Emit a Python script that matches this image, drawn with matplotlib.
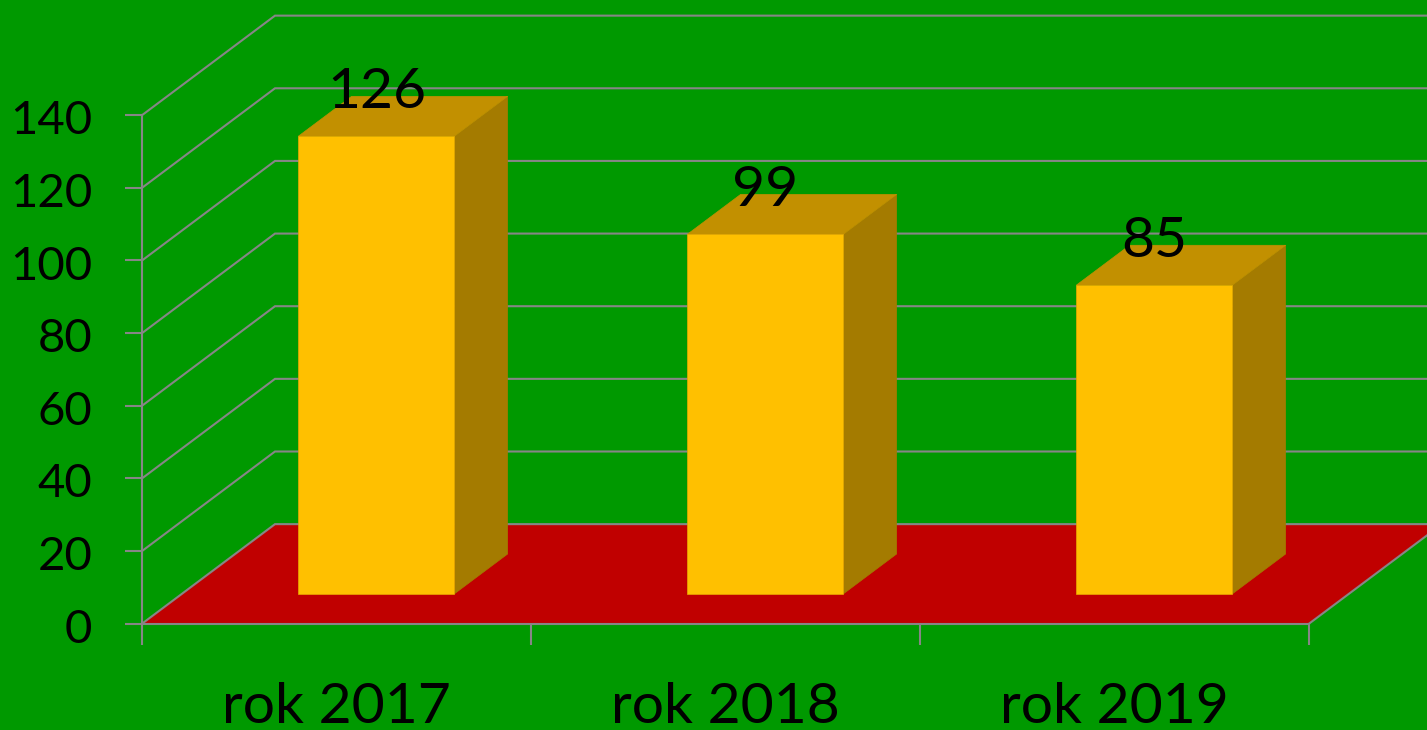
import matplotlib
matplotlib.use("Agg")
import matplotlib.pyplot as plt
from matplotlib.transforms import offset_copy

categories = ["rok 2017", "rok 2018", "rok 2019"]
values = [126, 99, 85]
y_ticks = [0, 20, 40, 60, 80, 100, 120, 140]

GREEN = "#009900"
RED = "#C00000"
YELLOW = "#FFC000"
TOP = "#C29000"
SIDE = "#A47B00"
GRID = "#868686"
W, H = 1427, 730
DX = 133 / 389      # category units per full depth
DY = 99.5 / 3.63    # value units per full depth
BAR_W = 156 / 389
D0, D1 = 0.3, 0.7   # bar front and back depth

plt.rcParams["font.family"] = ["Lato", "DejaVu Sans"]
fig = plt.figure(figsize=(W / 100, H / 100), dpi=100, facecolor=GREEN)
ax = fig.add_axes([142 / W, 1 - 623.7 / H, (1309 - 142) / W, (623.7 - 115.2) / H])
ax.set_facecolor("none")
ax.set_xlim(0, 3)
ax.set_ylim(0, 140)


def P(x, y, d):
    return x + d * DX, y + d * DY


# floor
n = len(categories)
pts = [P(0, 0, 0), P(n, 0, 0), P(n, 0, 1), P(0, 0, 1)]
ax.fill(*zip(*pts), fc=RED, ec="none", clip_on=False, zorder=1)

# walls and gridlines
LW = 1.5
for v in y_ticks:
    xs, ys = zip(P(0, v, 0), P(0, v, 1), P(n + 0.2, v, 1))
    ax.plot(xs, ys, color=GRID, lw=LW, clip_on=False, zorder=2, solid_joinstyle="miter")
xs, ys = zip(P(n, 0, 0), P(n, 0, 1))
ax.plot(xs, ys, color=GRID, lw=LW, clip_on=False, zorder=2)

# bars
for i, v in enumerate(values):
    c = i + 0.5
    l, r = c - BAR_W / 2, c + BAR_W / 2
    side = [P(r, 0, D0), P(r, 0, D1), P(r, v, D1), P(r, v, D0)]
    top = [P(l, v, D0), P(r, v, D0), P(r, v, D1), P(l, v, D1)]
    ax.fill(*zip(*side), fc=SIDE, ec=SIDE, lw=0.5, clip_on=False, zorder=3)
    ax.fill(*zip(*top), fc=TOP, ec=TOP, lw=0.5, clip_on=False, zorder=3)
    x0, y0 = P(l, 0, D0)
    ax.bar(x0, v, width=BAR_W, bottom=y0, align="edge", color=YELLOW,
           edgecolor="#E8A800", linewidth=0.5, clip_on=False, zorder=4)
    x1, y1 = P(c, v, D0)
    ax.annotate(str(v), (x1, y1), xytext=(0, 20.5), textcoords="offset points",
                ha="center", va="baseline", fontsize=41, color="black",
                zorder=6, annotation_clip=False)

# axes
for s in ("top", "right"):
    ax.spines[s].set_visible(False)
for s in ("left", "bottom"):
    ax.spines[s].set_color(GRID)
    ax.spines[s].set_linewidth(LW)
    ax.spines[s].set_zorder(5)
ax.set_yticks(y_ticks)
ax.set_xticks(range(n + 1))
ax.set_xticklabels([])
ax.set_xticks([i + 0.5 for i in range(n)], minor=True)
ax.set_xticklabels(categories, minor=True, fontsize=41, color="black")
ax.tick_params(axis="x", which="major", length=15, width=LW, color=GRID)
ax.tick_params(axis="x", which="minor", length=0, pad=42)
ax.tick_params(axis="y", length=12.2, width=LW, color=GRID, pad=23.5, labelsize=34, labelcolor="black")
for t in ax.get_yticklabels():
    t.set_va("center_baseline")
    t.set_transform(offset_copy(t.get_transform(), fig=fig, y=-1.5, units="points"))

fig.savefig("out.png", dpi=100, facecolor=GREEN)
